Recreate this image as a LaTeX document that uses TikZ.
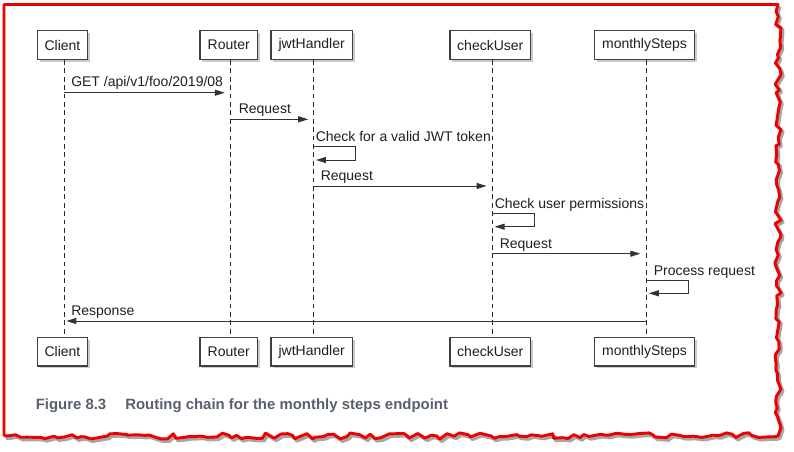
\documentclass[tikz,border=0pt]{standalone}
\usepackage{fontspec}
\setmainfont{Liberation Sans}
\usetikzlibrary{arrows.meta,shadows,decorations.pathmorphing}
\definecolor{tornred}{RGB}{238,0,0}
\definecolor{capgray}{RGB}{88,96,108}
\definecolor{ink}{RGB}{30,30,36}
\tikzset{
	actor/.style={draw=black!75, fill=white, line width=1.1pt, inner sep=0pt, minimum height=21.5pt, text=ink, font=\fontsize{10.5}{12}\selectfont, drop shadow={shadow xshift=1.8pt, shadow yshift=-1.8pt, fill=black!45, opacity=0.45}},
	lifeline/.style={draw=black!85, line width=1pt, dash pattern=on 3.6pt off 2.7pt},
	msg/.style={draw=black!80, line width=0.75pt, -{Triangle[length=7.5pt,width=4.5pt]}},
	lbl/.style={anchor=base west, inner sep=0pt, text=ink, font=\fontsize{10.5}{12}\selectfont},
	torn/.style={decorate, decoration={random steps, segment length=4.5pt, amplitude=2.4pt}},
}

\begin{document}
\begin{tikzpicture}[x=0.75pt, y=-0.75pt]
			%%%%% START %%%%%
			\useasboundingbox (0,0) rectangle (794,451);
			
			% torn page frame
			\pgfmathsetseed{42}
			\draw[black!35, line width=2.4pt, line join=round, torn] (780,6.5) -- (780,438.5) -- (6,438.5);
			\pgfmathsetseed{42}
			\draw[tornred, line width=2.2pt, line join=round] (4,436) -- (4,4.5) -- (778,4.5) decorate[decoration={random steps, segment length=4.5pt, amplitude=2.4pt}] {-- (778,436) -- (4,436)};
			
			% participants
			\node[actor, minimum width=37.8pt] (cliT) at (62.5,45) {Client};
			\node[actor, minimum width=43pt] (rtrT) at (228.7,45) {Router};
			\node[actor, minimum width=61pt] (jwtT) at (311.7,45) {jwtHandler};
			\node[actor, minimum width=60.5pt] (chkT) at (490.3,45) {checkUser};
			\node[actor, minimum width=75.3pt] (monT) at (644.5,45) {monthlySteps};
			
			\node[actor, minimum width=37.8pt] (cliB) at (62.5,351.7) {Client};
			\node[actor, minimum width=43pt] (rtrB) at (228.7,351.7) {Router};
			\node[actor, minimum width=61pt] (jwtB) at (311.7,351.7) {jwtHandler};
			\node[actor, minimum width=60.5pt] (chkB) at (490.3,351.7) {checkUser};
			\node[actor, minimum width=75.3pt] (monB) at (644.5,351.7) {monthlySteps};
			
			% lifelines
			\coordinate (cliL) at ([xshift=1.4pt]cliT.south);
			\coordinate (rtrL) at ([xshift=1.4pt]rtrT.south);
			\coordinate (jwtL) at ([xshift=1.4pt]jwtT.south);
			\coordinate (chkL) at ([xshift=1.4pt]chkT.south);
			\coordinate (monL) at ([xshift=1.4pt]monT.south);
			\draw[lifeline] (cliL) -- (cliL |- cliB.north);
			\draw[lifeline] (rtrL) -- (rtrL |- rtrB.north);
			\draw[lifeline] (jwtL) -- (jwtL |- jwtB.north);
			\draw[lifeline] (chkL) -- (chkL |- chkB.north);
			\draw[lifeline] (monL) -- (monL |- monB.north);
			
			% messages
			\draw[msg, shorten >=4.3pt] (cliL |- 0,92.7) -- (rtrL |- 0,92.7);
			\node[lbl] (m1) at (71,86.7) {GET /api/v1/foo/2019/08};
			
			\draw[msg, shorten >=4pt] (rtrL |- 0,119.3) -- (jwtL |- 0,119.3);
			\node[lbl] (m2) at (238.5,113.3) {Request};
			
			\draw[msg, shorten >=1.8pt] (jwtL |- 0,146.7) -- (355,146.7) -- (355,160) -- (jwtL |- 0,160);
			\node[lbl] (m3) at (315.5,141) {Check for a valid JWT token};
			
			\draw[msg, shorten >=4.2pt] (jwtL |- 0,186) -- (chkL |- 0,186);
			\node[lbl] (m4) at (320.5,180) {Request};
			
			\draw[msg, shorten >=1.8pt] (chkL |- 0,213.3) -- (534.3,213.3) -- (534.3,226.7) -- (chkL |- 0,226.7);
			\node[lbl] (m5) at (494.5,208.3) {Check user permissions};
			
			\draw[msg, shorten >=4.5pt] (chkL |- 0,253.7) -- (monL |- 0,253.7);
			\node[lbl] (m6) at (499.5,248.3) {Request};
			
			\draw[msg, shorten >=1.8pt] (monL |- 0,280.7) -- (688.3,280.7) -- (688.3,293.3) -- (monL |- 0,293.3);
			\node[lbl] (m7) at (653.5,275.7) {Process request};
			
			\draw[msg, shorten >=1.5pt] (monL |- 0,321) -- (cliL |- 0,321);
			\node[lbl] (m8) at (71,315.7) {Response};
			
			% caption
			\node[anchor=base west, inner sep=0pt, text=capgray, font=\fontsize{11.2}{13}\selectfont\bfseries] (fig) at (35.5,409.3) {Figure 8.3};
			\node[anchor=base west, inner sep=0pt, text=capgray, font=\fontsize{11.2}{13}\selectfont\bfseries] (cap) at (125,409.3) {Routing chain for the monthly steps endpoint};
			%%%%% END %%%%%
\end{tikzpicture}
\end{document}
